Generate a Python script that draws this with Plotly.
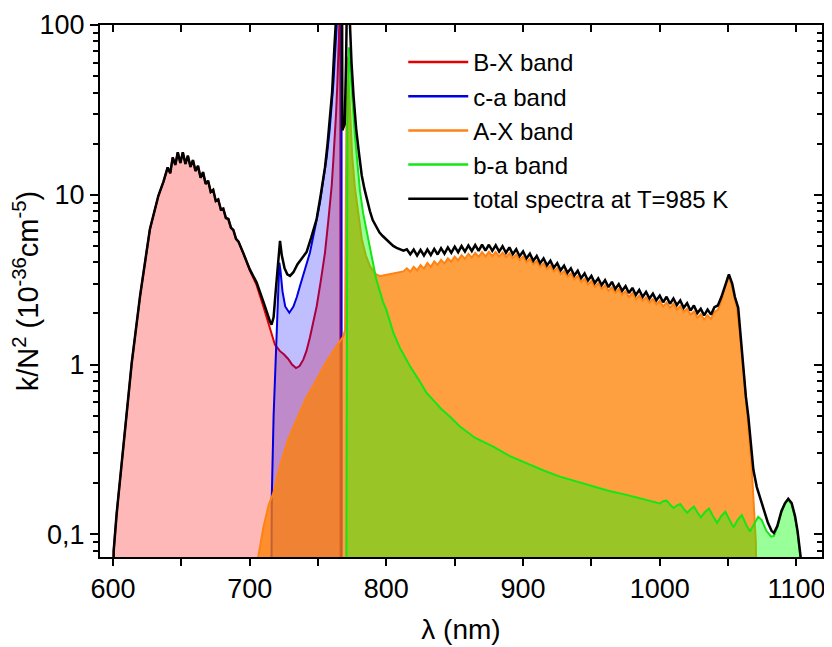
import plotly.graph_objects as go

# ---------------- data ----------------
# B-X band
lam_bx = [599.8, 600.5, 602.7, 606.3, 610.0, 613.7, 619.8, 627.0, 633.2, 637.0,
          640.0, 641.9, 643.7, 645.6, 647.4, 649.3, 651.1, 653.0, 654.8, 656.7,
          658.5, 660.4, 662.2, 664.1, 665.9, 667.8, 669.6, 671.5, 673.3, 675.2,
          677.0, 678.9, 680.7, 682.6, 684.4, 686.3, 688.1, 690.0, 691.8, 693.7,
          695.5, 700.0, 705.0, 710.0, 714.8, 718.5, 722.2, 725.0, 728.2, 731.0,
          733.9, 736.5, 739.2, 741.5, 744.1, 746.5, 749.0, 752.0, 755.1, 757.5,
          760.0, 761.2, 762.4, 763.2, 764.1, 765.3, 765.8, 766.3, 766.5]
val_bx = [0.03, 0.08, 0.133, 0.263, 0.518, 1.02, 2.53, 6.27, 9.87, 12.0,
          14.5, 13.4, 16.6, 15.0, 17.8, 15.4, 17.8, 15.2, 17.0, 14.6,
          16.0, 13.8, 14.8, 12.6, 13.6, 11.6, 12.1, 10.4, 10.7, 9.2,
          9.4, 8.2, 8.3, 7.3, 7.2, 6.4, 6.2, 5.5, 5.3, 4.8,
          4.5, 3.6, 2.95, 2.2, 1.61, 1.31, 1.2, 1.15, 1.08, 1.0,
          0.955, 0.98, 1.07, 1.2, 1.45, 1.75, 2.2, 3.1, 4.57, 7.0,
          11.3, 16.0, 22.3, 30.0, 44.0, 87.0, 150.0, 150.0, 0.03]

# c-a band
lam_ca = [715.8, 716.2, 717.5, 719.2, 720.5, 721.7, 722.5, 724.0, 726.0, 729.0,
          732.0, 734.5, 736.8, 740.0, 744.1, 748.0, 751.4, 754.0, 756.3, 758.5,
          760.0, 761.3, 762.4, 763.6, 765.0, 767.2, 767.3]
val_ca = [0.03, 0.17, 0.5, 1.28, 2.4, 3.98, 3.6, 2.7, 2.2, 2.02,
          2.2, 2.5, 2.9, 3.5, 4.57, 6.5, 9.0, 12.5, 16.5, 24.0,
          33.0, 46.0, 66.0, 110.0, 150.0, 150.0, 0.03]

# wavelength grid of the 795-1045 nm plateau (shared by A-X and total)
lam_plateau = [795.0, 797.5, 800.0, 802.5, 805.0, 807.5, 810.0, 812.5, 815.0, 817.5,
               820.0, 822.5, 825.0, 827.5, 830.0, 832.5, 835.0, 837.5, 840.0, 842.5,
               845.0, 847.5, 850.0, 852.5, 855.0, 857.5, 860.0, 862.5, 865.0, 867.5,
               870.0, 872.5, 875.0, 877.5, 880.0, 882.5, 885.0, 887.5, 890.0, 892.5,
               895.0, 897.5, 900.0, 902.5, 905.0, 907.5, 910.0, 912.5, 915.0, 917.5,
               920.0, 922.5, 925.0, 927.5, 930.0, 932.5, 935.0, 937.5, 940.0, 942.5,
               945.0, 947.5, 950.0, 952.5, 955.0, 957.5, 960.0, 962.5, 965.0, 967.5,
               970.0, 972.5, 975.0, 977.5, 980.0, 982.5, 985.0, 987.5, 990.0, 992.5,
               995.0, 997.5, 1000.0, 1002.5, 1005.0, 1007.5, 1010.0, 1012.5, 1015.0, 1017.5,
               1020.0, 1022.5, 1025.0, 1027.5, 1030.0, 1032.5, 1035.0, 1037.5, 1040.0, 1042.5,
               1045.0]

# A-X band
lam_ax_rise = [705.5, 706.3, 710.0, 714.0, 717.3, 722.0, 728.0, 734.4, 741.0, 749.0,
               755.0, 761.0, 768.5, 769.8, 770.3, 771.0, 771.6, 772.5, 773.4, 775.0,
               777.0, 779.5, 782.0, 785.0, 788.0, 792.5]
val_ax_rise = [0.03, 0.074, 0.11, 0.15, 0.175, 0.25, 0.36, 0.473, 0.63, 0.815,
               1.0, 1.2, 1.47, 1.6, 15.0, 60.0, 65.0, 45.0, 28.0, 17.0,
               11.0, 7.5, 5.5, 4.4, 3.8, 3.4]
val_ax_plateau = [3.33, 3.35, 3.38, 3.42, 3.45, 3.47, 3.50, 3.54, 3.69, 3.52,
                  3.77, 3.59, 3.85, 3.67, 3.97, 3.76, 4.05, 3.86, 4.14, 3.94,
                  4.22, 4.03, 4.33, 4.11, 4.41, 4.19, 4.49, 4.26, 4.55, 4.31,
                  4.59, 4.34, 4.61, 4.35, 4.60, 4.33, 4.57, 4.29, 4.52, 4.23,
                  4.44, 4.13, 4.33, 4.02, 4.20, 3.90, 4.07, 3.77, 3.94, 3.66,
                  3.82, 3.54, 3.70, 3.41, 3.56, 3.30, 3.44, 3.18, 3.32, 3.07,
                  3.20, 2.97, 3.10, 2.87, 3.01, 2.79, 2.93, 2.72, 2.85, 2.65,
                  2.78, 2.58, 2.70, 2.50, 2.63, 2.43, 2.55, 2.38, 2.49, 2.32,
                  2.43, 2.26, 2.37, 2.20, 2.32, 2.16, 2.28, 2.11, 2.21, 2.05,
                  2.13, 1.97, 2.05, 1.89, 1.98, 1.84, 1.95, 1.86, 2.04, 2.10,
                  2.35]
lam_ax_tail = [1047.5, 1050.0, 1052.5, 1055.0, 1056.2, 1058.0, 1060.0, 1062.0, 1063.5, 1065.5,
               1067.2, 1069.0, 1070.3, 1071.0]
val_ax_tail = [2.75, 3.32, 2.95, 2.4, 2.2, 1.7, 1.2, 0.8, 0.567, 0.38,
               0.251, 0.14, 0.09, 0.03]

# b-a band
lam_ba = [770.6, 770.9, 771.5, 772.6, 773.5, 774.5, 777.0, 779.0, 780.7, 783.0,
          785.6, 788.0, 790.4, 792.5, 795.0, 797.5, 800.0, 802.5, 805.1, 810.0,
          817.3, 823.0, 829.5, 835.0, 840.0, 847.0, 853.8, 865.0, 878.2, 890.0,
          902.6, 915.0, 927.0, 940.0, 951.4, 963.0, 975.8, 988.0, 995.0, 1000.0,
          1002.5, 1005.0, 1007.5, 1010.0, 1012.5, 1015.0, 1017.5, 1020.0, 1022.5, 1025.0,
          1027.5, 1030.0, 1033.0, 1036.0, 1039.0, 1042.0, 1045.0, 1048.0, 1051.0, 1054.0,
          1057.0, 1060.0, 1063.5, 1066.0, 1069.0, 1072.0, 1074.5, 1078.0, 1081.5, 1083.5,
          1086.0, 1089.0, 1092.0, 1094.0, 1096.5, 1099.0, 1101.0, 1102.5, 1103.6, 1104.0]
val_ba = [0.03, 5.0, 25.0, 74.0, 60.0, 44.0, 22.3, 14.5, 10.5, 7.8,
          6.0, 4.8, 3.9, 3.2, 2.7, 2.35, 2.1, 1.8, 1.54, 1.25,
          0.977, 0.83, 0.68, 0.61, 0.55, 0.49, 0.432, 0.37, 0.329, 0.29,
          0.262, 0.238, 0.219, 0.204, 0.191, 0.18, 0.171, 0.161, 0.156, 0.152,
          0.157, 0.158, 0.150, 0.143, 0.148, 0.151, 0.142, 0.134, 0.140, 0.146,
          0.135, 0.126, 0.135, 0.142, 0.128, 0.117, 0.128, 0.136, 0.122, 0.110,
          0.122, 0.130, 0.113, 0.104, 0.115, 0.127, 0.122, 0.105, 0.097, 0.098,
          0.110, 0.135, 0.155, 0.160, 0.150, 0.125, 0.100, 0.080, 0.065, 0.03]

# total spectra at T=985 K
lam_tot_left = [599.8, 600.5, 602.7, 606.3, 610.0, 613.7, 619.8, 627.0, 633.2, 637.0,
                640.0, 641.9, 643.7, 645.6, 647.4, 649.3, 651.1, 653.0, 654.8, 656.7,
                658.5, 660.4, 662.2, 664.1, 665.9, 667.8, 669.6, 671.5, 673.3, 675.2,
                677.0, 678.9, 680.7, 682.6, 684.4, 686.3, 688.1, 690.0, 691.8, 693.7,
                695.5, 700.0, 705.1, 710.0, 713.0, 714.8, 716.0, 717.5, 719.2, 720.8,
                722.2, 723.5, 725.5, 727.5, 729.5, 732.0, 735.0, 738.0, 741.6, 745.0,
                749.0, 752.0, 755.1, 757.0, 758.7, 760.3, 761.9, 763.2, 765.0, 767.6,
                767.8, 769.5, 770.5, 771.2, 772.5, 773.4, 774.5, 776.0, 778.0, 780.0,
                782.0, 784.0, 786.0, 788.0, 790.0, 792.5]
val_tot_left = [0.03, 0.08, 0.133, 0.263, 0.518, 1.02, 2.53, 6.27, 9.87, 12.0,
                14.5, 13.4, 16.6, 15.0, 17.8, 15.4, 17.8, 15.2, 17.0, 14.6,
                16.0, 13.8, 14.8, 12.6, 13.6, 11.6, 12.1, 10.4, 10.7, 9.2,
                9.4, 8.2, 8.3, 7.3, 7.2, 6.4, 6.2, 5.5, 5.3, 4.8,
                4.5, 3.65, 3.04, 2.35, 1.95, 1.8, 1.72, 1.9, 2.8, 4.2,
                5.35, 4.4, 3.7, 3.4, 3.33, 3.5, 3.9, 4.2, 4.6, 5.6,
                7.2, 10.0, 14.5, 20.0, 28.5, 40.0, 72.0, 110.0, 150.0, 150.0,
                24.0, 26.0, 60.0, 150.0, 150.0, 90.0, 60.0, 38.0, 24.0, 17.5,
                13.0, 10.8, 9.2, 8.0, 7.1, 6.5]
val_tot_plateau = [6.0, 5.7, 5.45, 5.2, 5.0, 4.87, 4.76, 4.69, 4.78, 4.46,
                   4.76, 4.39, 4.74, 4.39, 4.76, 4.42, 4.80, 4.45, 4.85, 4.50,
                   4.90, 4.55, 4.95, 4.59, 4.99, 4.63, 5.03, 4.67, 5.06, 4.68,
                   5.09, 4.69, 5.08, 4.68, 5.04, 4.63, 4.98, 4.56, 4.90, 4.47,
                   4.78, 4.35, 4.64, 4.22, 4.50, 4.09, 4.36, 3.96, 4.22, 3.84,
                   4.09, 3.72, 3.96, 3.59, 3.82, 3.47, 3.69, 3.35, 3.57, 3.23,
                   3.44, 3.13, 3.33, 3.02, 3.22, 2.94, 3.14, 2.86, 3.07, 2.79,
                   2.98, 2.72, 2.90, 2.64, 2.83, 2.57, 2.75, 2.51, 2.68, 2.45,
                   2.62, 2.39, 2.55, 2.33, 2.51, 2.28, 2.45, 2.24, 2.39, 2.16,
                   2.30, 2.08, 2.23, 2.01, 2.13, 1.95, 2.11, 1.97, 2.18, 2.23,
                   2.49]
lam_tot_right = [1047.5, 1050.6, 1053.0, 1055.0, 1057.4, 1059.0, 1061.1, 1063.0, 1064.8, 1066.5,
                 1068.5, 1071.0, 1073.3, 1076.0, 1079.0, 1081.8, 1083.5, 1086.0, 1089.0, 1091.5,
                 1094.0, 1096.5, 1099.0, 1100.8, 1102.3, 1103.6, 1104.0]
val_tot_right = [2.9, 3.4, 3.0, 2.5, 2.16, 1.5, 0.934, 0.65, 0.495, 0.34,
                 0.24, 0.19, 0.165, 0.14, 0.118, 0.105, 0.102, 0.112, 0.137, 0.152,
                 0.162, 0.153, 0.128, 0.105, 0.085, 0.068, 0.03]

lam_ax = lam_ax_rise + lam_plateau + lam_ax_tail
val_ax = val_ax_rise + val_ax_plateau + val_ax_tail
lam_tot = lam_tot_left + lam_plateau + lam_tot_right
val_tot = val_tot_left + val_tot_plateau + val_tot_right

y_ticks = [0.1, 1, 10, 100]
y_ticktext = ["0,1", "1", "10", "100"]
y_minor = [m * 10.0 ** e for e in range(-2, 2) for m in range(2, 10)]

FONT = "Liberation Sans, Arial, sans-serif"

fig = go.Figure()
series = [
    ("B-X band", lam_bx, val_bx, "rgb(228,0,0)", "rgba(255,0,0,0.28)"),
    ("c-a band", lam_ca, val_ca, "rgb(0,0,225)", "rgba(0,0,255,0.25)"),
    ("A-X band", lam_ax, val_ax, "rgb(255,130,20)", "rgba(255,128,0,0.75)"),
    ("b-a band", lam_ba, val_ba, "rgb(20,230,20)", "rgba(0,255,0,0.4)"),
]
for name, lx, vy, lc, fc in series:
    fig.add_trace(go.Scatter(x=lx, y=vy, name=name, mode="lines",
                             line=dict(color=lc, width=2), fill="tozeroy",
                             fillcolor=fc, showlegend=False))
fig.add_trace(go.Scatter(x=lam_tot, y=val_tot, name="total spectra at T=985 K",
                         mode="lines", line=dict(color="black", width=2.5),
                         showlegend=False))
# legend entries (line samples only, as in the reference)
for name, lx, vy, lc, fc in series:
    fig.add_trace(go.Scatter(x=[None], y=[None], name=name, mode="lines",
                             line=dict(color=lc, width=2.5)))
fig.add_trace(go.Scatter(x=[None], y=[None], name="total spectra at T=985 K",
                         mode="lines", line=dict(color="black", width=2.5)))
# helper trace so that the mirrored (top/right) axes are drawn
fig.add_trace(go.Scatter(x=[lam_tot[0]], y=[val_tot[5]], xaxis="x2", yaxis="y2",
                         mode="markers", marker=dict(opacity=0), showlegend=False,
                         hoverinfo="skip"))

xr = [590.5, 1118.7]
yr = [-1.133, 2.0]
tickfont = dict(family=FONT, size=27, color="black")
# the page body adds an 8 px offset, so margins are shifted by 8 px
fig.update_layout(
    width=832, height=647,
    margin=dict(l=92, r=18, t=17, b=98, autoexpand=False),
    paper_bgcolor="white", plot_bgcolor="white",
    font=dict(family=FONT, color="black"),
    xaxis=dict(range=xr, showgrid=False, zeroline=False, showline=True,
               automargin=False,
               linecolor="black", linewidth=2, ticks="outside", ticklen=7,
               tickwidth=2, tickcolor="black", tick0=600, dtick=100,
               tickfont=tickfont,
               minor=dict(dtick=50, tick0=600, ticks="outside", ticklen=7,
                          tickwidth=2, tickcolor="black", showgrid=False),
               title=dict(text="λ (nm)", font=dict(family=FONT, size=28),
                          standoff=16)),
    yaxis=dict(type="log", range=yr, showgrid=False, zeroline=False,
               automargin=False,
               showline=True, linecolor="black", linewidth=2,
               ticks="outside", ticklen=8, tickwidth=2, tickcolor="black",
               tickmode="array", tickvals=y_ticks, ticktext=y_ticktext,
               tickfont=tickfont,
               minor=dict(tickmode="array", tickvals=y_minor, ticks="outside",
                          ticklen=5, tickwidth=2, tickcolor="black",
                          showgrid=False),
               title=dict(text="k/N<sup>2</sup> (10<sup>-36</sup>cm<sup>-5</sup>)",
                          font=dict(family=FONT, size=29), standoff=10)),
    xaxis2=dict(range=xr, overlaying="x", side="top", anchor="y2",
                automargin=False,
                showgrid=False, zeroline=False, showline=True,
                linecolor="black", linewidth=2, ticks="inside", ticklen=7,
                tickwidth=2, tickcolor="black", tick0=600, dtick=100,
                showticklabels=False,
                minor=dict(dtick=50, tick0=600, ticks="inside", ticklen=7,
                           tickwidth=2, tickcolor="black", showgrid=False)),
    yaxis2=dict(type="log", range=yr, overlaying="y", side="right",
                anchor="x2", automargin=False,
                showgrid=False, zeroline=False, showline=True,
                linecolor="black", linewidth=2, ticks="inside", ticklen=8,
                tickwidth=2, tickcolor="black", tickmode="array",
                tickvals=y_ticks, showticklabels=False,
                minor=dict(tickmode="array", tickvals=y_minor, ticks="inside",
                           ticklen=5, tickwidth=2, tickcolor="black",
                           showgrid=False)),
    legend=dict(x=0.42, y=0.972, xanchor="left", yanchor="top",
                bgcolor="rgba(0,0,0,0)", borderwidth=0, itemwidth=60,
                font=dict(family=FONT, size=24, color="black"),
                tracegroupgap=0),
    showlegend=True,
)

fig.write_html("out.html")
